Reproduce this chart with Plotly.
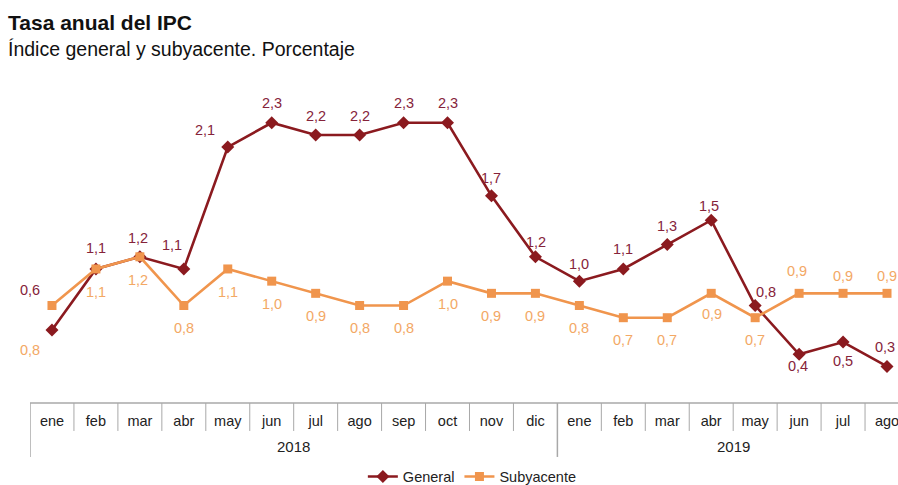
import plotly.graph_objects as go

months = ["ene", "feb", "mar", "abr", "may", "jun", "jul", "ago", "sep", "oct", "nov", "dic",
          "ene", "feb", "mar", "abr", "may", "jun", "jul", "ago"]
years = ["2018", "2019"]
general = [0.6, 1.1, 1.2, 1.1, 2.1, 2.3, 2.2, 2.2, 2.3, 2.3, 1.7, 1.2,
           1.0, 1.1, 1.3, 1.5, 0.8, 0.4, 0.5, 0.3]
subyacente = [0.8, 1.1, 1.2, 0.8, 1.1, 1.0, 0.9, 0.8, 0.8, 1.0, 0.9, 0.9,
              0.8, 0.7, 0.7, 0.9, 0.7, 0.9, 0.9, 0.9]

# label offsets in pixels (style only)
gen_dx = [-22, 0, -2, -12, -23, 0, 0, 0, 0, 0, 0, 1, 0, 0, 0, -2, 11, -1, 0, -2]
gen_dy = [40, 21, 19, 24, 17, 20, 19, 19, 20, 20, 18, 15, 17, 20, 19, 14, 14, -12, -19, 19]
sub_dx = [-22, 0, -2, 0, 0, 0, 0, 0, 0, 0, 0, 0, 0, 0, 0, 1, 0, -2, 0, 0]
sub_dy = [-44, -23, -23, -22, -23, -23, -23, -22, -22, -23, -23, -23, -22, -22, -22, -21, -22, 22, 17, 17]

RED = "#8B1A1F"
RED_TXT = "#86233A"
ORANGE = "#F0954D"
ORANGE_TXT = "#F3A865"
FONT = "Liberation Sans, Arial, sans-serif"
LBL = 14.5

def fmt(v):
    return f"{v:.1f}".replace(".", ",")

x = list(range(len(months)))

fig = go.Figure()
fig.add_trace(go.Scatter(
    x=x, y=general, name="General", mode="lines+markers",
    line=dict(color=RED, width=2.6),
    marker=dict(symbol="diamond", size=10, color=RED),
    cliponaxis=False,
))
fig.add_trace(go.Scatter(
    x=x, y=subyacente, name="Subyacente", mode="lines+markers",
    line=dict(color=ORANGE, width=2.6),
    marker=dict(symbol="square", size=9, color=ORANGE),
    cliponaxis=False,
))

annotations = []
for i, v in enumerate(general):
    annotations.append(dict(text=fmt(v), x=x[i], y=v, xref="x", yref="y",
                            xshift=gen_dx[i], yshift=gen_dy[i], showarrow=False,
                            font=dict(size=LBL, color=RED_TXT, family=FONT)))
for i, v in enumerate(subyacente):
    annotations.append(dict(text=fmt(v), x=x[i], y=v, xref="x", yref="y",
                            xshift=sub_dx[i], yshift=sub_dy[i], showarrow=False,
                            font=dict(size=LBL, color=ORANGE_TXT, family=FONT)))

# table-like x axis
shapes = []
GRID = "#A8A8A8"
shapes.append(dict(type="line", xref="paper", yref="paper", x0=0, x1=1, y0=0, y1=0,
                   line=dict(color=GRID, width=1.5)))
for i in range(len(months)):
    b = i - 0.5
    long = (i == 0) or (months[i] == "ene")
    shapes.append(dict(type="line", xref="x", yref="paper", x0=b, x1=b,
                       y0=0, y1=-0.164 if long else -0.085,
                       line=dict(color=GRID, width=1.5 if long else 1)))

annotations += [
    dict(text="<b>Tasa anual del IPC</b>", xref="paper", yref="paper", x=-0.0275, y=1.1567,
         xanchor="left", yanchor="middle", showarrow=False,
         font=dict(size=21, color="#111111", family=FONT)),
    dict(text="Índice general y subyacente. Porcentaje", xref="paper", yref="paper",
         x=-0.0275, y=1.0747, xanchor="left", yanchor="middle", showarrow=False,
         font=dict(size=19.5, color="#111111", family=FONT)),
]
year_centers = [5.5, 15.5]
for yr, xc in zip(years, year_centers):
    annotations.append(dict(text=yr, x=xc, y=-0.131, xref="x", yref="paper",
                            yanchor="middle", showarrow=False,
                            font=dict(size=15, color="#222222", family=FONT)))

fig.update_layout(
    width=898, height=485,
    margin=dict(l=30, r=0, t=74, b=82, autoexpand=False),
    plot_bgcolor="white", paper_bgcolor="white",
    font=dict(family=FONT, size=12, color="#222222"),
    showlegend=True,
    legend=dict(orientation="h", xref="container", yref="container",
                x=0.526, xanchor="center", y=0.0175, yanchor="middle",
                font=dict(size=14.5, color="#222222", family=FONT)),
    shapes=shapes,
    annotations=annotations,
)
fig.update_xaxes(range=[-0.5, 19.25], tickvals=x, ticktext=months, ticks="",
                 showgrid=False, zeroline=False, showline=False,
                 tickfont=dict(size=14.5, color="#222222", family=FONT),
                 ticklabelstandoff=7, ticklabeloverflow="allow")
fig.update_yaxes(range=[0, 2.7], showticklabels=False, showgrid=False,
                 zeroline=False, showline=False, fixedrange=True)

fig.write_html(
    "out.html",
    config={"displayModeBar": False},
    post_script=("document.documentElement.style.margin='0';"
                 "document.body.style.margin='0';"
                 "document.documentElement.style.overflow='hidden';"
                 "document.body.style.overflow='hidden';"),
)
